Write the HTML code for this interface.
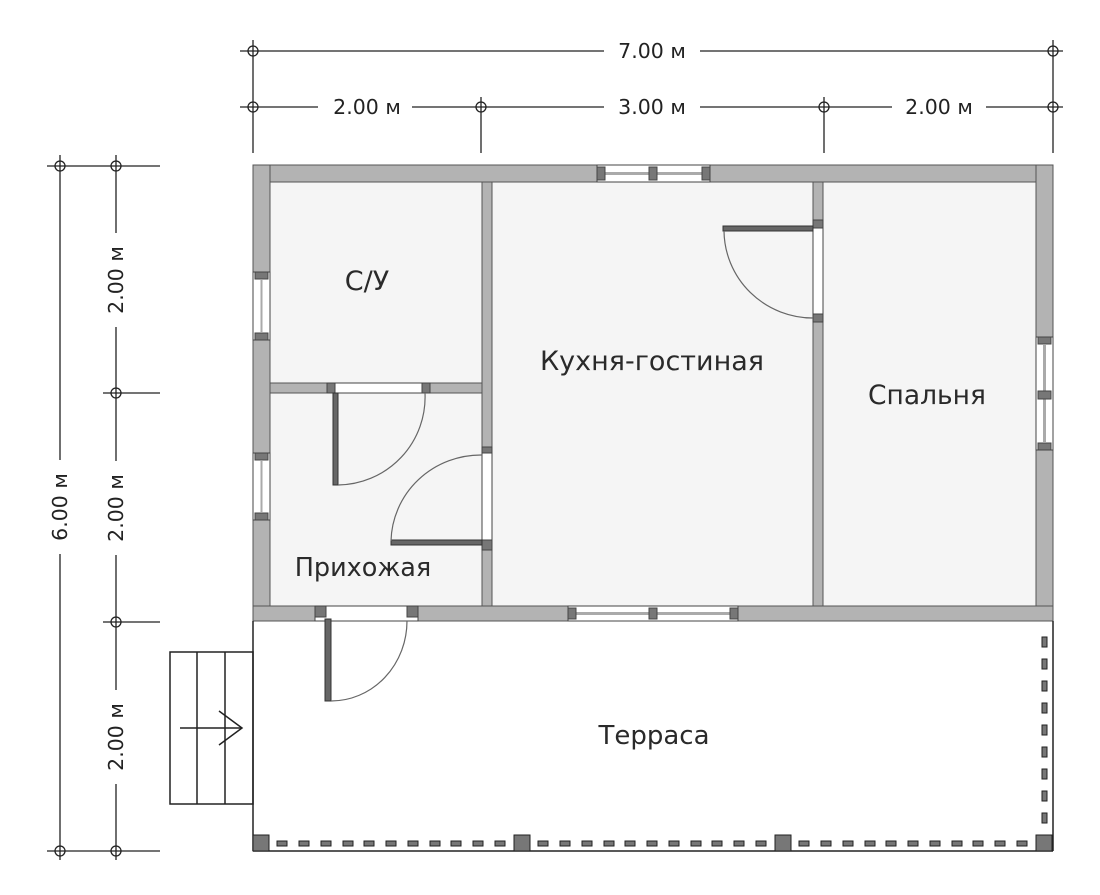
<!DOCTYPE html>
<html><head><meta charset="utf-8"><style>
html,body{margin:0;padding:0;background:#fff;}
svg{display:block;font-family:"DejaVu Sans","Liberation Sans",sans-serif;}
</style></head><body>
<svg width="1100" height="895" viewBox="0 0 1100 895" xmlns="http://www.w3.org/2000/svg">
<rect width="1100" height="895" fill="#fff"/>
<rect x="253" y="165" width="800" height="456" fill="#f5f5f5"/>
<g stroke="#222" stroke-width="1.3" fill="none">
<line x1="240" y1="51" x2="1063" y2="51"/>
<line x1="240" y1="107" x2="1063" y2="107"/>
<line x1="253" y1="40" x2="253" y2="153"/>
<line x1="1053" y1="40" x2="1053" y2="153"/>
<line x1="481" y1="97" x2="481" y2="153"/>
<line x1="824" y1="97" x2="824" y2="153"/>
<line x1="60" y1="155" x2="60" y2="860"/>
<line x1="116" y1="155" x2="116" y2="860"/>
<line x1="47" y1="166" x2="160" y2="166"/>
<line x1="103" y1="393" x2="160" y2="393"/>
<line x1="103" y1="622" x2="160" y2="622"/>
<line x1="47" y1="851" x2="160" y2="851"/>
<circle cx="253" cy="51" r="5"/><circle cx="1053" cy="51" r="5"/>
<circle cx="253" cy="107" r="5"/><circle cx="481" cy="107" r="5"/><circle cx="824" cy="107" r="5"/><circle cx="1053" cy="107" r="5"/>
<circle cx="60" cy="166" r="5"/><circle cx="116" cy="166" r="5"/>
<circle cx="116" cy="393" r="5"/><circle cx="116" cy="622" r="5"/>
<circle cx="60" cy="851" r="5"/><circle cx="116" cy="851" r="5"/>
</g>
<g font-size="20.5" fill="#222" text-anchor="middle">
<rect x="604" y="40" width="96" height="22" fill="#fff"/>
<text x="652" y="58">7.00 м</text>
<rect x="318" y="96" width="94" height="22" fill="#fff"/>
<text x="367" y="114">2.00 м</text>
<rect x="604" y="96" width="96" height="22" fill="#fff"/>
<text x="652" y="114">3.00 м</text>
<rect x="892" y="96" width="94" height="22" fill="#fff"/>
<text x="939" y="114">2.00 м</text>
<rect x="48" y="460" width="24" height="94" fill="#fff"/>
<text transform="translate(67,507) rotate(-90)">6.00 м</text>
<rect x="104" y="233" width="24" height="94" fill="#fff"/>
<text transform="translate(123,280) rotate(-90)">2.00 м</text>
<rect x="104" y="461" width="24" height="94" fill="#fff"/>
<text transform="translate(123,508) rotate(-90)">2.00 м</text>
<rect x="104" y="690" width="24" height="94" fill="#fff"/>
<text transform="translate(123,737) rotate(-90)">2.00 м</text>
</g>
<g fill="#b3b3b3" stroke="#555" stroke-width="1">
<rect x="253" y="165" width="800" height="17"/>
<rect x="253" y="165" width="17" height="456"/>
<rect x="1036" y="165" width="17" height="456"/>
<rect x="253" y="606" width="800" height="15"/>
<rect x="482" y="182" width="10" height="424"/>
<rect x="813" y="182" width="10" height="424"/>
<rect x="270" y="383" width="212" height="10"/>
</g>
<g fill="#fff" stroke="#444" stroke-width="1">
<rect x="597" y="165" width="113" height="17"/>
<line x1="605" y1="173.5" x2="702" y2="173.5" stroke="#aaa" stroke-width="3"/>
<rect x="253" y="272" width="17" height="68"/>
<rect x="253" y="453" width="17" height="67"/>
<rect x="1036" y="337" width="17" height="113"/>
<line x1="1044.5" y1="345" x2="1044.5" y2="442" stroke="#aaa" stroke-width="3"/>
<rect x="568" y="606" width="170" height="15"/>
<line x1="576" y1="613.5" x2="730" y2="613.5" stroke="#aaa" stroke-width="3"/>
<rect x="327" y="383" width="103" height="10"/>
<rect x="315" y="606" width="103" height="15"/>
<rect x="813" y="220" width="10" height="102"/>
<rect x="482" y="453" width="10" height="97"/>
</g>
<g fill="#fff" stroke="#aaa" stroke-width="2">
<line x1="261.5" y1="280" x2="261.5" y2="332"/>
<line x1="261.5" y1="461" x2="261.5" y2="512"/>
</g>
<g fill="#777" stroke="#444" stroke-width="1">
<rect x="597" y="167" width="8" height="13"/><rect x="702" y="167" width="8" height="13"/><rect x="649" y="167" width="8" height="13"/>
<rect x="255" y="272" width="13" height="7"/><rect x="255" y="333" width="13" height="7"/>
<rect x="255" y="453" width="13" height="7"/><rect x="255" y="513" width="13" height="7"/>
<rect x="1038" y="337" width="13" height="7"/><rect x="1038" y="391" width="13" height="8"/><rect x="1038" y="443" width="13" height="7"/>
<rect x="568" y="608" width="8" height="11"/><rect x="649" y="608" width="8" height="11"/><rect x="730" y="608" width="8" height="11"/>
<rect x="327" y="383" width="8" height="10"/><rect x="422" y="383" width="8" height="10"/>
<rect x="315" y="606" width="11" height="11"/><rect x="407" y="606" width="11" height="11"/>
<rect x="813" y="220" width="10" height="8"/><rect x="813" y="314" width="10" height="8"/>
<rect x="482" y="447" width="10" height="6"/><rect x="482" y="540" width="10" height="10"/>
</g>
<g fill="#666" stroke="#333" stroke-width="1">
<rect x="333" y="393" width="5" height="92"/>
<rect x="391" y="540" width="91" height="5"/>
<rect x="723" y="226" width="90" height="5"/>
<rect x="325" y="619" width="6" height="82"/>
</g>
<g fill="none" stroke="#666" stroke-width="1.2">
<path d="M338 485 A88 88 0 0 0 425 393"/>
<path d="M391 541 A90 88 0 0 1 482 455"/>
<path d="M724 231 A89 88 0 0 0 813 318"/>
<path d="M331 701 A76 80 0 0 0 407 621"/>
</g>
<g stroke="#222" stroke-width="1.5" fill="none">
<line x1="253" y1="621" x2="253" y2="851"/>
<line x1="1053" y1="621" x2="1053" y2="851"/>
<line x1="253" y1="851" x2="1053" y2="851"/>
</g>
<g fill="#777" stroke="#222" stroke-width="1">
<rect x="253" y="835" width="16" height="16"/>
<rect x="514" y="835" width="16" height="16"/>
<rect x="775" y="835" width="16" height="16"/>
<rect x="1036" y="835" width="16" height="16"/>
</g>
<g fill="#777" stroke="#222" stroke-width="1">
<rect x="277" y="841" width="10" height="5"/><rect x="299" y="841" width="10" height="5"/><rect x="321" y="841" width="10" height="5"/><rect x="343" y="841" width="10" height="5"/><rect x="364" y="841" width="10" height="5"/><rect x="386" y="841" width="10" height="5"/><rect x="408" y="841" width="10" height="5"/><rect x="430" y="841" width="10" height="5"/><rect x="451" y="841" width="10" height="5"/><rect x="473" y="841" width="10" height="5"/><rect x="495" y="841" width="10" height="5"/>
<rect x="538" y="841" width="10" height="5"/><rect x="560" y="841" width="10" height="5"/><rect x="582" y="841" width="10" height="5"/><rect x="604" y="841" width="10" height="5"/><rect x="625" y="841" width="10" height="5"/><rect x="647" y="841" width="10" height="5"/><rect x="669" y="841" width="10" height="5"/><rect x="691" y="841" width="10" height="5"/><rect x="712" y="841" width="10" height="5"/><rect x="734" y="841" width="10" height="5"/><rect x="756" y="841" width="10" height="5"/>
<rect x="799" y="841" width="10" height="5"/><rect x="821" y="841" width="10" height="5"/><rect x="843" y="841" width="10" height="5"/><rect x="865" y="841" width="10" height="5"/><rect x="886" y="841" width="10" height="5"/><rect x="908" y="841" width="10" height="5"/><rect x="930" y="841" width="10" height="5"/><rect x="952" y="841" width="10" height="5"/><rect x="973" y="841" width="10" height="5"/><rect x="995" y="841" width="10" height="5"/><rect x="1017" y="841" width="10" height="5"/>
<rect x="1042" y="637" width="5" height="10"/><rect x="1042" y="659" width="5" height="10"/><rect x="1042" y="681" width="5" height="10"/><rect x="1042" y="703" width="5" height="10"/><rect x="1042" y="725" width="5" height="10"/><rect x="1042" y="747" width="5" height="10"/><rect x="1042" y="769" width="5" height="10"/><rect x="1042" y="791" width="5" height="10"/><rect x="1042" y="813" width="5" height="10"/>
</g>
<g stroke="#222" stroke-width="1.5" fill="none">
<rect x="170" y="652" width="83" height="152"/>
<line x1="197" y1="652" x2="197" y2="804"/>
<line x1="225" y1="652" x2="225" y2="804"/>
<line x1="180" y1="728" x2="242" y2="728"/>
<polyline points="219,711 242,728 219,745"/>
</g>
<g fill="#2a2a2a" text-anchor="middle">
<text x="367" y="290" font-size="27">С/У</text>
<text x="652" y="370" font-size="27">Кухня-гостиная</text>
<text x="927" y="404" font-size="26.5">Спальня</text>
<text x="363" y="576" font-size="25.5">Прихожая</text>
<text x="654" y="744" font-size="26">Терраса</text>
</g>
</svg>
</body></html>
